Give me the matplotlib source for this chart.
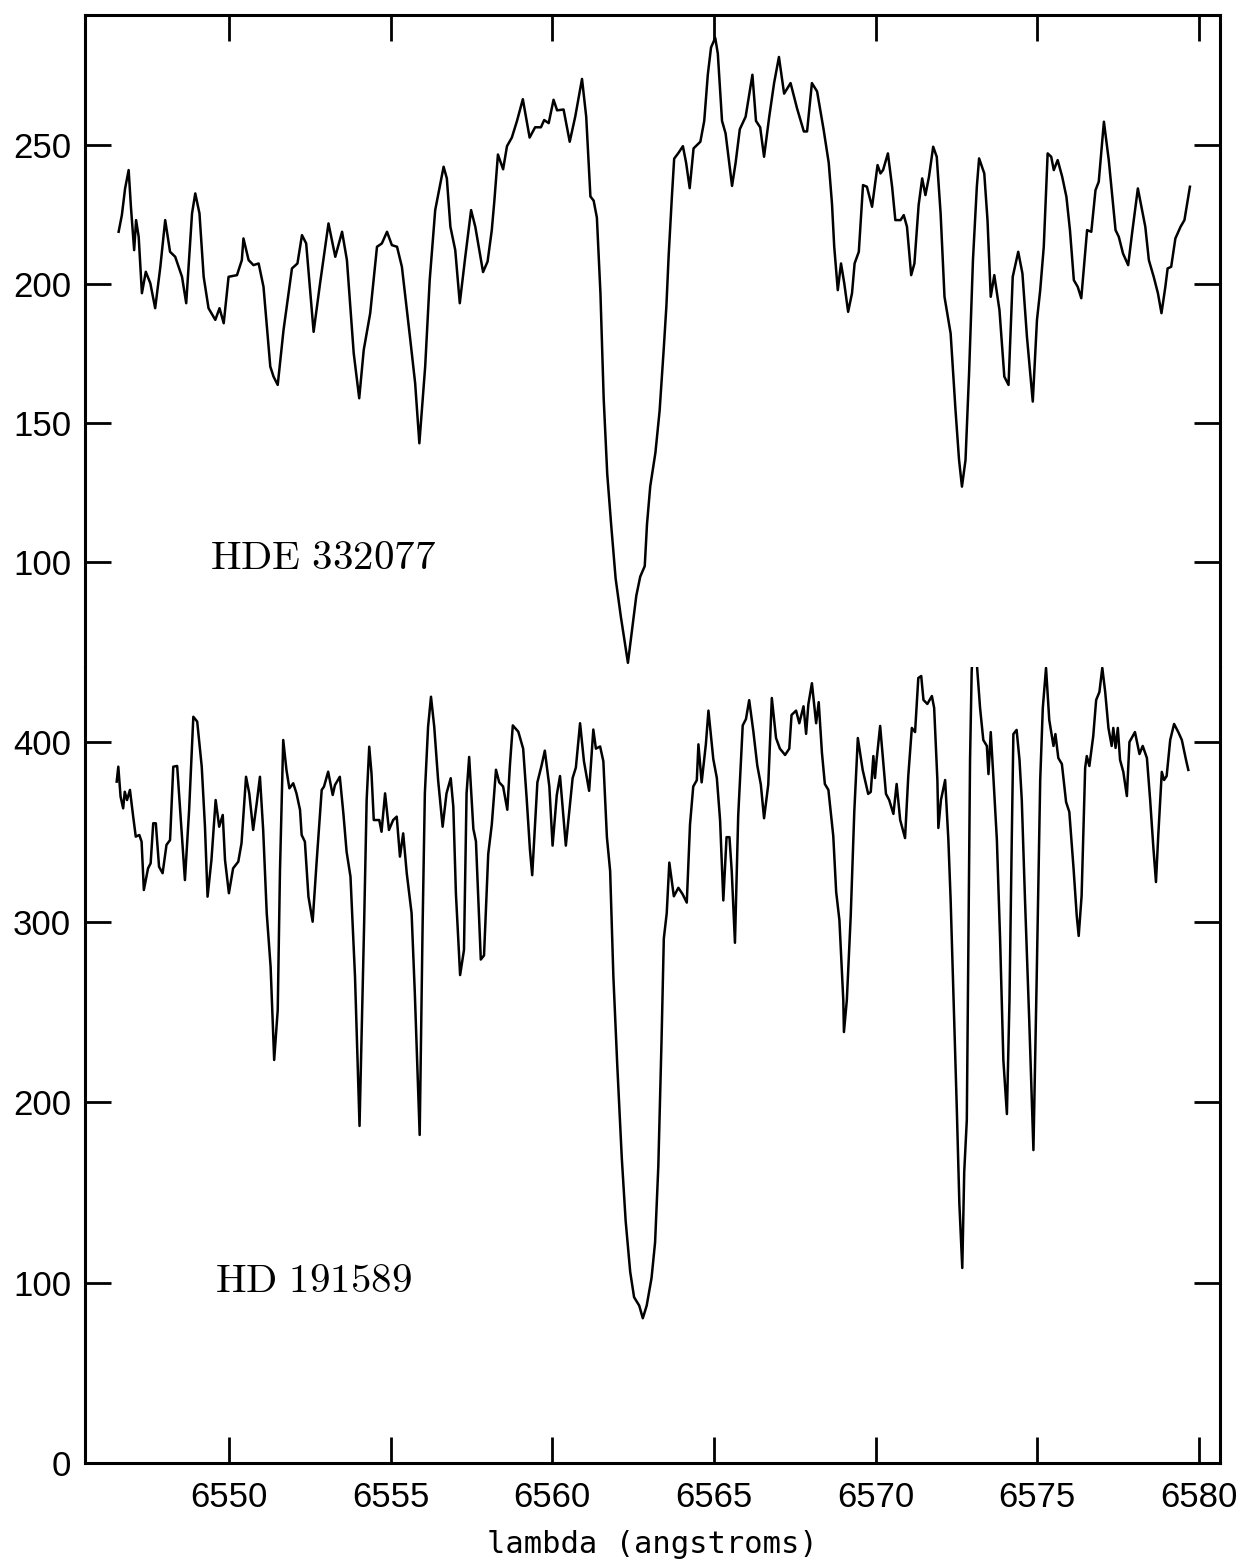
import matplotlib
matplotlib.use("Agg")
from matplotlib import pyplot as plt

plt.rcParams['mathtext.fontset'] = 'cm'

# HDE 332077 (upper trace) -- wavelength (A) and counts
hde_lam = [
    6546.59, 6546.69, 6546.79, 6546.90, 6546.97, 6547.07, 6547.13, 6547.21, 6547.31, 6547.43,
    6547.57, 6547.72, 6547.88, 6548.03, 6548.18, 6548.34, 6548.55, 6548.68, 6548.86, 6548.96,
    6549.09, 6549.22, 6549.37, 6549.58, 6549.71, 6549.84, 6549.99, 6550.25, 6550.40, 6550.45,
    6550.61, 6550.76, 6550.92, 6551.07, 6551.28, 6551.38, 6551.51, 6551.69, 6551.95, 6552.12,
    6552.26, 6552.39, 6552.62, 6552.82, 6552.98, 6553.08, 6553.29, 6553.50, 6553.65, 6553.86,
    6554.03, 6554.17, 6554.37, 6554.58, 6554.73, 6554.89, 6555.04, 6555.20, 6555.35, 6555.61,
    6555.76, 6555.89, 6556.07, 6556.21, 6556.38, 6556.54, 6556.64, 6556.74, 6556.85, 6557.00,
    6557.14, 6557.31, 6557.49, 6557.62, 6557.86, 6558.00, 6558.13, 6558.21, 6558.32, 6558.48,
    6558.60, 6558.75, 6558.91, 6559.09, 6559.30, 6559.47, 6559.65, 6559.75, 6559.89, 6560.04,
    6560.15, 6560.35, 6560.54, 6560.71, 6560.92, 6561.05, 6561.18, 6561.28, 6561.38, 6561.49,
    6561.59, 6561.70, 6561.82, 6561.96, 6562.12, 6562.24, 6562.34, 6562.47, 6562.60, 6562.72,
    6562.86, 6562.93, 6563.03, 6563.19, 6563.32, 6563.45, 6563.53, 6563.60, 6563.70, 6563.77,
    6563.91, 6564.04, 6564.14, 6564.25, 6564.37, 6564.58, 6564.70, 6564.81, 6564.91, 6565.04,
    6565.12, 6565.25, 6565.36, 6565.56, 6565.67, 6565.80, 6565.98, 6566.19, 6566.30, 6566.43,
    6566.55, 6566.71, 6566.86, 6567.01, 6567.17, 6567.37, 6567.57, 6567.78, 6567.88, 6568.03,
    6568.19, 6568.39, 6568.55, 6568.65, 6568.72, 6568.83, 6568.93, 6569.03, 6569.15, 6569.27,
    6569.35, 6569.48, 6569.61, 6569.73, 6569.89, 6570.06, 6570.15, 6570.23, 6570.38, 6570.51,
    6570.61, 6570.77, 6570.87, 6570.97, 6571.10, 6571.20, 6571.33, 6571.44, 6571.54, 6571.65,
    6571.78, 6571.89, 6572.01, 6572.13, 6572.32, 6572.47, 6572.58, 6572.67, 6572.78, 6572.89,
    6573.01, 6573.13, 6573.20, 6573.36, 6573.46, 6573.56, 6573.67, 6573.83, 6573.98, 6574.11,
    6574.24, 6574.41, 6574.54, 6574.68, 6574.86, 6574.99, 6575.09, 6575.20, 6575.32, 6575.43,
    6575.51, 6575.63, 6575.77, 6575.90, 6576.01, 6576.13, 6576.25, 6576.36, 6576.54, 6576.67,
    6576.80, 6576.90, 6577.06, 6577.21, 6577.42, 6577.52, 6577.65, 6577.81, 6577.93, 6578.11,
    6578.24, 6578.34, 6578.45, 6578.60, 6578.73, 6578.84, 6578.96, 6579.03, 6579.14, 6579.27,
    6579.43, 6579.55, 6579.72,
]
hde_counts = [
    218.8, 224.8, 234.4, 241.0, 227.8, 212.2, 223.0, 217.0, 196.7, 204.4,
    200.3, 191.3, 206.2, 223.0, 211.6, 209.8, 202.6, 193.1, 225.4, 232.6,
    225.4, 202.6, 191.3, 187.1, 191.3, 185.9, 202.6, 203.2, 208.6, 216.4,
    208.6, 206.8, 207.4, 199.0, 170.3, 166.7, 163.7, 183.5, 205.6, 207.4,
    217.6, 214.6, 182.8, 200.3, 213.4, 221.8, 209.8, 218.8, 208.6, 175.1,
    158.9, 176.3, 189.5, 213.4, 214.6, 218.8, 214.0, 213.4, 206.2, 179.9,
    164.3, 142.7, 170.3, 201.4, 226.6, 236.2, 242.2, 238.0, 220.6, 212.2,
    193.1, 209.8, 226.6, 220.6, 204.3, 208.1, 219.4, 230.0, 246.6, 241.3,
    249.6, 252.7, 258.7, 266.5, 252.7, 256.4, 256.4, 259.0, 257.9, 266.3,
    262.5, 262.8, 251.2, 260.2, 273.8, 260.2, 231.5, 230.0, 223.9, 196.7,
    158.9, 131.7, 113.6, 94.0, 80.4, 71.3, 63.7, 75.8, 87.9, 94.7,
    98.5, 113.6, 127.2, 139.3, 154.4, 177.1, 192.2, 210.3, 231.5, 245.1,
    247.3, 249.6, 243.6, 234.5, 248.8, 251.2, 258.7, 275.3, 285.1, 288.6,
    282.9, 258.7, 254.2, 235.3, 243.6, 255.7, 260.2, 275.3, 258.7, 256.4,
    245.8, 260.2, 272.3, 281.7, 268.5, 272.3, 263.2, 254.9, 254.9, 272.3,
    269.3, 255.7, 243.6, 229.0, 213.4, 197.8, 207.4, 200.3, 190.0, 196.7,
    207.4, 211.6, 235.6, 235.0, 227.8, 242.8, 239.8, 241.0, 247.0, 235.0,
    223.0, 223.0, 224.8, 220.6, 203.2, 207.4, 228.4, 238.0, 232.0, 238.6,
    249.4, 245.8, 225.4, 195.4, 182.2, 154.7, 136.7, 127.1, 136.7, 167.9,
    208.6, 235.0, 245.2, 239.8, 223.0, 195.4, 203.2, 190.6, 166.7, 163.7,
    202.6, 211.6, 203.8, 181.0, 157.7, 187.1, 197.8, 213.4, 247.0, 245.8,
    241.0, 244.6, 238.6, 231.4, 219.4, 201.4, 199.0, 194.9, 219.4, 218.8,
    233.8, 236.8, 258.4, 244.6, 219.4, 217.0, 211.0, 206.8, 218.2, 234.4,
    226.6, 220.6, 208.6, 202.6, 196.7, 189.5, 199.0, 205.6, 206.2, 216.4,
    220.6, 223.0, 235.0,
]

# HD 191589 (lower trace)
hd_lam = [
    6546.53, 6546.58, 6546.65, 6546.73, 6546.78, 6546.85, 6546.94, 6547.04, 6547.12, 6547.23,
    6547.30, 6547.37, 6547.50, 6547.58, 6547.66, 6547.74, 6547.84, 6547.95, 6548.07, 6548.18,
    6548.28, 6548.40, 6548.54, 6548.64, 6548.77, 6548.90, 6549.02, 6549.16, 6549.26, 6549.34,
    6549.46, 6549.59, 6549.70, 6549.81, 6549.88, 6550.00, 6550.13, 6550.29, 6550.39, 6550.53,
    6550.63, 6550.75, 6550.86, 6550.96, 6551.06, 6551.17, 6551.29, 6551.40, 6551.51, 6551.58,
    6551.68, 6551.78, 6551.87, 6551.99, 6552.09, 6552.20, 6552.25, 6552.35, 6552.46, 6552.59,
    6552.71, 6552.87, 6552.94, 6553.07, 6553.21, 6553.28, 6553.43, 6553.54, 6553.64, 6553.76,
    6553.90, 6554.04, 6554.18, 6554.26, 6554.34, 6554.41, 6554.48, 6554.65, 6554.72, 6554.83,
    6554.95, 6555.08, 6555.19, 6555.29, 6555.39, 6555.50, 6555.65, 6555.75, 6555.90, 6555.99,
    6556.06, 6556.16, 6556.25, 6556.35, 6556.47, 6556.61, 6556.73, 6556.86, 6556.94, 6557.02,
    6557.15, 6557.27, 6557.35, 6557.43, 6557.56, 6557.64, 6557.79, 6557.89, 6558.02, 6558.13,
    6558.26, 6558.36, 6558.48, 6558.61, 6558.69, 6558.78, 6558.95, 6559.10, 6559.21, 6559.31,
    6559.38, 6559.54, 6559.67, 6559.77, 6559.91, 6560.01, 6560.14, 6560.24, 6560.42, 6560.63,
    6560.73, 6560.86, 6560.98, 6561.14, 6561.27, 6561.35, 6561.48, 6561.58, 6561.69, 6561.79,
    6561.89, 6562.01, 6562.15, 6562.27, 6562.41, 6562.53, 6562.69, 6562.80, 6562.92, 6563.07,
    6563.18, 6563.28, 6563.38, 6563.45, 6563.54, 6563.62, 6563.76, 6563.90, 6564.03, 6564.16,
    6564.26, 6564.36, 6564.47, 6564.52, 6564.62, 6564.75, 6564.83, 6564.98, 6565.09, 6565.19,
    6565.29, 6565.39, 6565.48, 6565.55, 6565.65, 6565.75, 6565.89, 6565.99, 6566.09, 6566.22,
    6566.34, 6566.45, 6566.55, 6566.68, 6566.79, 6566.92, 6567.04, 6567.20, 6567.33, 6567.40,
    6567.54, 6567.64, 6567.77, 6567.85, 6567.92, 6568.03, 6568.16, 6568.24, 6568.34, 6568.43,
    6568.54, 6568.69, 6568.78, 6568.88, 6569.00, 6569.02, 6569.11, 6569.23, 6569.34, 6569.45,
    6569.60, 6569.77, 6569.85, 6569.93, 6569.98, 6570.03, 6570.14, 6570.24, 6570.32, 6570.42,
    6570.55, 6570.65, 6570.76, 6570.91, 6571.01, 6571.12, 6571.22, 6571.32, 6571.41, 6571.48,
    6571.60, 6571.74, 6571.81, 6571.91, 6571.94, 6572.02, 6572.15, 6572.25, 6572.32, 6572.41,
    6572.51, 6572.59, 6572.68, 6572.74, 6572.82, 6572.87, 6572.92, 6572.97, 6573.05, 6573.14,
    6573.23, 6573.33, 6573.44, 6573.49, 6573.56, 6573.64, 6573.75, 6573.85, 6573.95, 6574.06,
    6574.14, 6574.21, 6574.26, 6574.36, 6574.45, 6574.52, 6574.62, 6574.75, 6574.88, 6574.98,
    6575.09, 6575.17, 6575.27, 6575.37, 6575.50, 6575.56, 6575.65, 6575.76, 6575.89, 6575.99,
    6576.12, 6576.22, 6576.28, 6576.37, 6576.48, 6576.53, 6576.61, 6576.73, 6576.82, 6576.92,
    6577.01, 6577.10, 6577.20, 6577.30, 6577.35, 6577.42, 6577.49, 6577.56, 6577.66, 6577.77,
    6577.85, 6578.02, 6578.16, 6578.26, 6578.39, 6578.49, 6578.59, 6578.67, 6578.74, 6578.85,
    6578.92, 6579.00, 6579.11, 6579.23, 6579.36, 6579.47, 6579.60, 6579.67,
]
hd_counts = [
    378.0, 386.3, 369.7, 363.2, 372.4, 367.8, 373.4, 358.6, 347.5, 348.4,
    344.7, 317.9, 329.9, 332.7, 354.9, 354.9, 330.8, 327.2, 342.9, 345.6,
    386.3, 386.7, 349.3, 323.4, 362.3, 414.0, 411.3, 386.3, 353.0, 314.2,
    334.5, 367.8, 353.0, 359.5, 334.5, 316.1, 329.9, 333.6, 343.8, 380.7,
    371.5, 351.2, 366.0, 380.7, 351.2, 305.0, 275.3, 223.6, 251.3, 329.0,
    401.1, 384.5, 374.3, 377.1, 371.5, 362.3, 348.4, 344.7, 314.2, 300.3,
    332.7, 373.4, 375.2, 383.5, 370.6, 376.1, 380.7, 360.4, 339.1, 325.3,
    269.8, 187.0, 297.5, 367.8, 397.4, 382.6, 356.7, 356.7, 350.2, 371.5,
    351.2, 356.7, 358.6, 336.4, 349.3, 327.2, 305.0, 260.6, 182.0, 297.5,
    371.5, 408.5, 425.1, 408.5, 378.9, 353.0, 371.5, 379.9, 364.1, 316.1,
    270.7, 284.6, 371.5, 391.7, 351.8, 344.9, 279.3, 281.6, 337.8, 354.2,
    384.6, 377.6, 375.3, 362.4, 387.0, 409.2, 405.7, 396.3, 368.3, 340.2,
    326.1, 377.6, 387.0, 395.2, 375.3, 342.5, 370.6, 381.1, 342.5, 380.0,
    385.8, 410.4, 389.3, 372.9, 406.9, 396.3, 397.5, 389.3, 347.2, 328.4,
    269.9, 220.8, 169.3, 134.2, 106.1, 92.0, 87.3, 80.3, 87.3, 102.6,
    122.4, 164.6, 234.8, 291.0, 305.0, 333.1, 314.4, 319.1, 315.6, 310.9,
    354.2, 375.3, 378.8, 398.7, 377.6, 398.7, 417.4, 390.5, 380.0, 356.6,
    312.1, 347.2, 347.2, 328.4, 288.6, 358.9, 409.2, 412.7, 423.2, 405.7,
    387.0, 376.4, 357.7, 376.4, 424.4, 402.2, 396.3, 392.8, 396.3, 415.0,
    417.4, 410.4, 419.8, 404.5, 420.9, 432.6, 410.4, 422.1, 394.0, 376.7,
    373.4, 347.9, 316.8, 301.2, 256.9, 239.1, 256.9, 303.5, 361.2, 402.2,
    384.5, 371.2, 372.3, 392.2, 380.0, 390.0, 408.9, 387.8, 371.2, 367.8,
    360.1, 376.7, 356.7, 346.7, 381.1, 407.8, 405.5, 435.5, 436.6, 423.3,
    421.1, 425.5, 418.9, 378.9, 352.3, 367.8, 378.9, 345.6, 312.3, 256.9,
    196.9, 143.7, 108.2, 161.4, 190.3, 290.2, 390.0, 438.8, 470.0, 441.0,
    418.9, 401.1, 397.8, 382.2, 405.5, 381.1, 345.6, 290.2, 223.6, 193.6,
    256.9, 345.6, 404.4, 406.7, 390.0, 367.8, 312.3, 245.8, 173.6, 267.9,
    378.9, 418.9, 441.1, 412.2, 397.8, 404.4, 391.1, 387.8, 366.7, 361.2,
    330.1, 303.5, 292.4, 314.6, 385.6, 392.2, 386.7, 403.3, 423.3, 427.7,
    441.1, 427.7, 407.8, 397.8, 407.8, 396.7, 407.8, 390.0, 383.4, 370.0,
    400.0, 405.5, 393.3, 397.8, 391.1, 367.8, 341.2, 322.3, 347.9, 383.4,
    378.9, 381.1, 401.1, 410.0, 405.5, 401.1, 390.0, 384.5,
]

x_ticks = [6550, 6555, 6560, 6565, 6570, 6575, 6580]
top_yticks = [100, 150, 200, 250]
bottom_yticks = [0, 100, 200, 300, 400]

W, H = 1252, 1566
fig = plt.figure(figsize=(W / 100, H / 100), dpi=100)

left, right = 85 / W, 1220 / W
split = 1 - 667 / H
ax_top = fig.add_axes([left, split, right - left, (1 - 15 / H) - split])
ax_bot = fig.add_axes([left, 1 - 1463 / H, right - left, split - (1 - 1463 / H)])

tick_font = {'family': 'Liberation Sans', 'size': 25}

for ax in (ax_top, ax_bot):
    ax.set_xlim(6545.55, 6580.65)
    ax.set_xticks(x_ticks)
    for side in ax.spines.values():
        side.set_linewidth(2.2)
    ax.tick_params(which='both', direction='in', length=19, width=2.0,
                   left=True, right=True, pad=10)
    for lab in ax.get_yticklabels() + ax.get_xticklabels():
        lab.set_fontfamily('Liberation Sans')

# upper panel
ax_top.plot(hde_lam, hde_counts, color='black', lw=1.8)
ax_top.set_ylim(62.2, 296.8)
ax_top.set_yticks(top_yticks)
ax_top.spines['bottom'].set_visible(False)
ax_top.tick_params(axis='x', top=True, bottom=False, labelbottom=False)
ax_top.set_yticklabels([str(v) for v in top_yticks], fontdict=tick_font)
ax_top.text(6549.41, 101.4, r'$\mathrm{HDE\ 332077}$', fontsize=29.5, va='center', ha='left')

# lower panel
ax_bot.plot(hd_lam, hd_counts, color='black', lw=1.8)
ax_bot.set_ylim(0, 441.6)
ax_bot.set_yticks(bottom_yticks)
ax_bot.spines['top'].set_visible(False)
ax_bot.tick_params(axis='x', top=False, bottom=True, pad=13)
ax_bot.set_yticklabels([str(v) for v in bottom_yticks], fontdict=tick_font)
ax_bot.set_xticklabels([str(v) for v in x_ticks], fontdict=tick_font)
ax_bot.text(6549.57, 101.0, r'$\mathrm{HD\ 191589}$', fontsize=29.5, va='center', ha='left')

ax_bot.set_xlabel('lambda (angstroms)', family='DejaVu Sans Mono', fontsize=22)
ax_bot.xaxis.set_label_coords(0.5, -0.103)
ax_bot.xaxis.label.set_va('center')

fig.savefig('out.png', dpi=100)
